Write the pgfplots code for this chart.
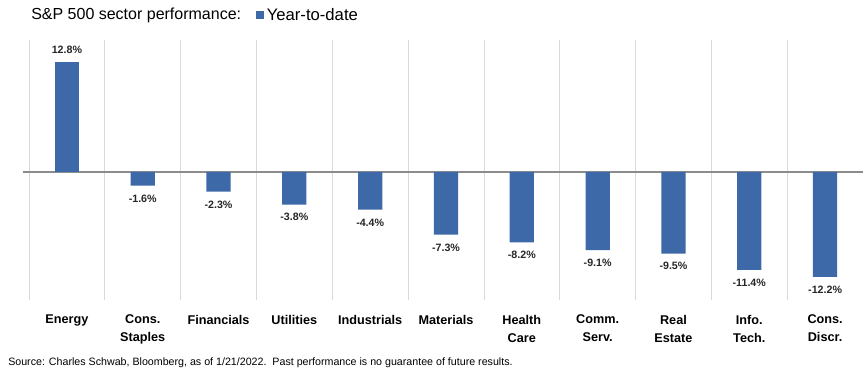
\documentclass[border=0pt]{standalone}
\usepackage{fontspec}
\setmainfont{Liberation Sans}
\usepackage{pgfplots}
\pgfplotsset{compat=1.18}
\definecolor{barblue}{HTML}{3E69A8}
\definecolor{zerogray}{HTML}{8C8C8C}
\definecolor{gridgray}{HTML}{D9D9D9}
\begin{document}
\begin{tikzpicture}[x=0.75pt,y=0.75pt]
\useasboundingbox (0,0) rectangle (864,374);
\begin{axis}[
  at={(29*0.75pt,74*0.75pt)}, anchor=south west,
  scale only axis, width=834*0.75pt, height=260*0.75pt,
  xmin=-0.5, xmax=10.5, ymin=-14.9, ymax=15.35,
  ybar, bar width=0.32, bar shift=0pt,
  axis line style={draw=none},
  major tick length=0pt, minor tick length=0pt,
  ytick=\empty,
  xtick={0,...,10},
  xticklabels={Energy, Cons.\\Staples, Financials, Utilities, Industrials, Materials, Health\\Care, Comm.\\Serv., Real\\Estate, Info.\\Tech., Cons.\\Discr.},
  xticklabel style={font=\bfseries\fontsize{9.5}{13.5}\selectfont, align=center, anchor=north, inner sep=0pt, yshift=-11pt},
  minor xtick={-0.5,0.5,...,9.5},
  xminorgrids, minor grid style={gridgray, line width=0.6pt},
  legend style={at={(axis description cs:0.272,1.096)}, anchor=west, draw=none, fill=none, font=\fontsize{12.5}{14}\selectfont, inner sep=0pt},
  legend image code/.code={\fill[barblue] (0pt,-3pt) rectangle (6pt,3pt);},
  nodes near coords, point meta=explicit symbolic,
  every node near coord/.append style={font=\bfseries\fontsize{8}{9}\selectfont, inner sep=0pt, text=black!85},
  clip=false,
]
\draw[zerogray, line width=1.8pt] (axis cs:-0.58,0) -- (axis cs:10.5,0);
\addplot[fill=barblue, draw=none, every node near coord/.append style={anchor=south, yshift=5.8pt}]
  coordinates {(0,12.8) [12.8\%]};
\addlegendentry{Year-to-date}
\addplot[fill=barblue, draw=none, forget plot, every node near coord/.append style={anchor=north, yshift=-6.5pt}]
  coordinates {(1,-1.6) [-1.6\%] (2,-2.3) [-2.3\%] (3,-3.8) [-3.8\%] (4,-4.4) [-4.4\%] (5,-7.3) [-7.3\%] (6,-8.2) [-8.2\%] (7,-9.1) [-9.1\%] (8,-9.5) [-9.5\%] (9,-11.4) [-11.4\%] (10,-12.2) [-12.2\%]};
\end{axis}
\node[anchor=west, inner sep=0pt, font=\fontsize{12}{14}\selectfont] at (31,359) {S\&P 500 sector performance:};
\node[anchor=west, inner sep=0pt, font=\fontsize{8}{9}\selectfont] at (8,11) {Source: Charles Schwab, Bloomberg, as of 1/21/2022.\ \ Past performance is no guarantee of future results.};
\end{tikzpicture}
\end{document}
